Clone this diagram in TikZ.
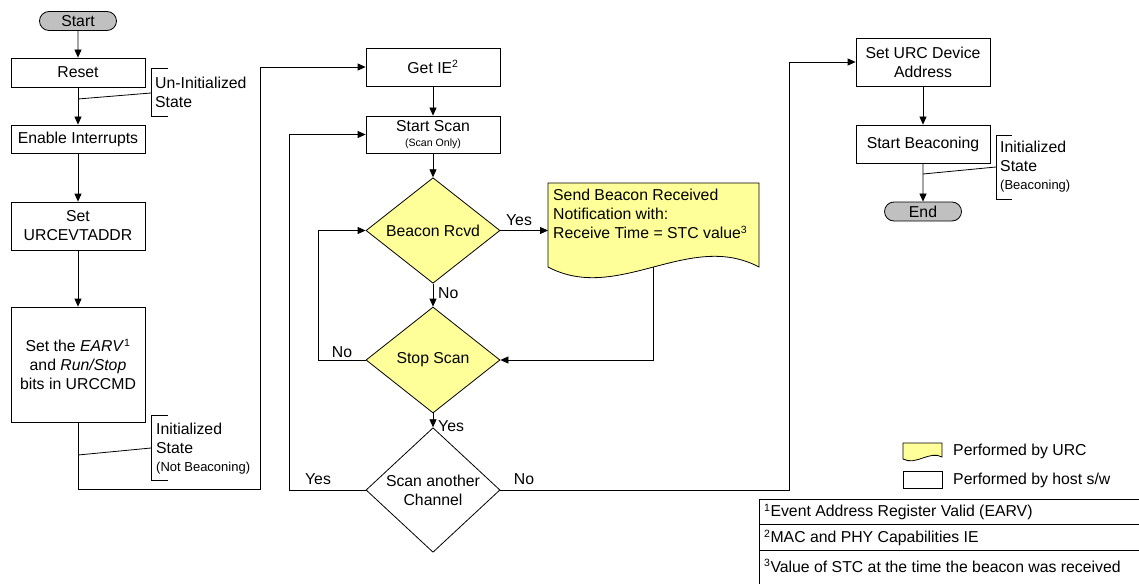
\documentclass[tikz,border=0pt]{standalone}
\usepackage{fontspec}
\setmainfont{Liberation Sans}
\usetikzlibrary{arrows.meta,shapes.geometric,shapes.misc}
\definecolor{urcyellow}{RGB}{255,255,153}
\definecolor{termgray}{RGB}{192,192,192}
\newcommand{\fnmark}[1]{\textsuperscript{\fontsize{10.5}{11}\selectfont #1}}
\newcommand{\smalltxt}{\fontsize{13}{15}\selectfont}
\begin{document}
\begin{tikzpicture}[x=1pt,y=-1pt,
  font=\fontsize{15.8}{19}\selectfont,
  line/.style={draw=black, line width=0.8pt},
  flow/.style={line, -{Triangle[length=8pt,width=7pt]}},
  hostbox/.style={draw, line width=0.8pt, fill=white, align=center, inner sep=0pt, minimum width=134pt},
  terminal/.style={draw, line width=0.8pt, rounded rectangle, fill=termgray, inner sep=0pt,
    minimum width=77pt, minimum height=19pt},
  decision/.style={diamond, draw, line width=0.8pt, fill=urcyellow, inner sep=0pt, align=center,
    minimum width=134pt},
  annot/.style={anchor=west, inner sep=0pt, align=left},
  lbl/.style={inner sep=0pt},
  urcwave/.style={draw, line width=0.8pt, fill=urcyellow}]

\clip (0,0) rectangle (1139,583);
\fill[white] (0,0) rectangle (1139,583);

% ---- left column: initialisation
\node[terminal] (start) at (78,21) {Start};
\node[hostbox, minimum height=29pt] (reset) at (78,72.5) {Reset};
\node[hostbox, minimum height=28pt] (enable) at (78,139) {Enable Interrupts};
\node[hostbox, minimum height=48pt] (urcevt) at (78,226) {Set\\URCEVTADDR};
\node[hostbox, minimum height=115pt] (earv) at (78,364.5)
  {Set the \textit{EARV}\fnmark{1}\\and \textit{Run/Stop}\\bits in URCCMD};

\draw[flow] (start) -- (reset);
\draw[flow] (reset) -- (enable);
\draw[flow] (enable) -- (urcevt);
\draw[flow] (urcevt) -- (earv);

% state brackets on the left column
\coordinate (uTap) at (78,99);
\coordinate (uBr) at (151,93);
\draw[line] (uTap) -- (uBr);
\draw[line] (168,68) -- (151,68) -- (151,116) -- (168,116);
\node[annot] (uninit) at (155,92) {Un-Initialized\\State};

\coordinate (iTap) at (78,455);
\coordinate (iBr) at (151,448);
\draw[line] (iTap) -- (iBr);
\draw[line] (168,415) -- (151,415) -- (151,480) -- (168,480);
\node[annot] (initnb) at (156,449) {Initialized\\State\\[-1pt]{\smalltxt(Not Beaconing)}};

% ---- middle column: scanning
\node[hostbox, minimum height=38pt] (getie) at (433,67) {Get IE\fnmark{2}};
\node[hostbox, minimum height=37pt] (startscan) at (433,134.5)
  {Start Scan\\[-4pt]{\fontsize{10.6}{12}\selectfont(Scan Only)}};
\node[decision, minimum height=95pt] (beacon) at (433,230.5) {Beacon Rcvd};
\node[decision, minimum height=106pt] (stop) at (433,360) {Stop Scan};
\node[decision, fill=white, minimum height=94pt] (another) at (433,490) {Scan another\\Channel};

\draw[flow] (earv.south) -- (78,489) -| (260,67) -- (getie.west);
\draw[flow] (getie) -- (startscan);
\draw[flow] (startscan) -- (beacon);
\draw[flow] (beacon) -- (stop);
\draw[flow] (stop) -- (another);

% beacon notification (performed by the URC)
\draw[urcwave] (548,183) -- (759,183) -- (759,267)
  .. controls (689,230) and (618,304) .. (548,267) -- cycle;
\node[anchor=north west, inner sep=0pt, align=left] (note) at (553,189)
  {Send Beacon Received\\Notification with:\\Receive Time = STC value\fnmark{3}};
\coordinate (noteBot) at (653.5,267);

\draw[flow] (beacon.east) -- (548,230.5);
\draw[flow] (noteBot) |- (stop.east);
\draw[flow] (stop.west) -- (318,360) |- (beacon.west);
\draw[flow] (another.west) -- (289,490) |- (startscan.west);

\node[lbl] (yesB) at (519,220) {Yes};
\node[lbl, anchor=west] (noB) at (438,293) {No};
\node[lbl] (noS) at (342,352) {No};
\node[lbl, anchor=west] (yesS) at (438,426) {Yes};
\node[lbl] (yesA) at (318,479) {Yes};
\node[lbl] (noA) at (524,479) {No};

% ---- right column: beaconing
\node[hostbox, minimum height=48pt] (setaddr) at (923,62) {Set URC Device\\Address};
\node[hostbox, minimum height=38pt] (beaconing) at (923,144) {Start Beaconing};
\node[terminal] (end) at (923,211.5) {End};

\draw[flow] (another.east) -- (789,490) |- (setaddr.west);
\draw[flow] (setaddr) -- (beaconing);
\draw[flow] (beaconing) -- (end);

\coordinate (bTap) at (923,174);
\coordinate (bBr) at (996,167);
\draw[line] (bTap) -- (bBr);
\draw[line] (1012,135) -- (996,135) -- (996,199) -- (1012,199);
\node[annot] (initb) at (1000,167) {Initialized\\State\\[-1pt]{\smalltxt(Beaconing)}};

% ---- legend
\draw[urcwave] (903,443) -- (942,443) -- (942,457)
  .. controls (930,450) and (916,466) .. (903,459) -- cycle;
\node[annot] (legU) at (953,451) {Performed by URC};
\node[draw, line width=0.8pt, fill=white, minimum width=39pt, minimum height=17pt, inner sep=0pt]
  (legHost) at (922.5,479.5) {};
\node[annot] (legH) at (953,480) {Performed by host s/w};

% ---- footnotes
\draw[line] (759,499) rectangle (1150,524);
\draw[line] (759,524) rectangle (1150,550);
\draw[line] (759,550) rectangle (1150,600);
\node[annot] (fn1) at (764,512) {\fnmark{1}Event Address Register Valid (EARV)};
\node[annot] (fn2) at (764,538) {\fnmark{2}MAC and PHY Capabilities IE};
\node[annot] (fn3) at (764,566) {\fnmark{3}Value of STC at the time the beacon was received};
\end{tikzpicture}
\end{document}
